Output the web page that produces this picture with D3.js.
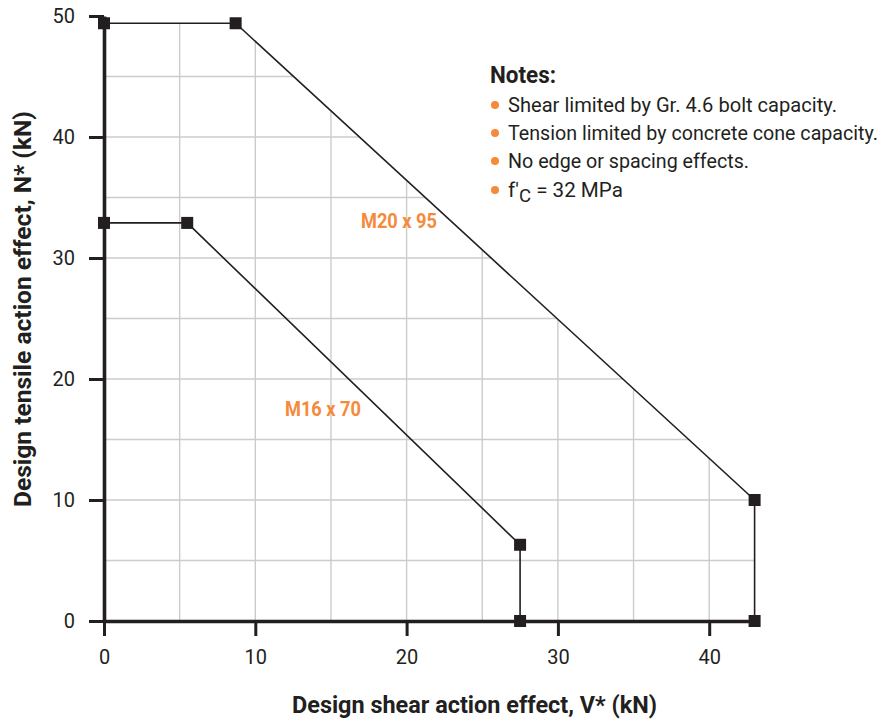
<!DOCTYPE html>
<html>
<head>
<meta charset="utf-8">
<script src="https://cdn.jsdelivr.net/npm/d3@7"></script>
<style>
  body { margin: 0; background: #fff; }
  svg { display: block; font-family: Roboto, "Liberation Sans", sans-serif; }
</style>
</head>
<body>
<div id="chart-area"></div>
<script>
// data
var m20_shear   = [0, 8.7, 43, 43]
var m20_tension = [49.4, 49.4, 10, 0]
var m16_shear   = [0, 5.5, 27.5, 27.5]
var m16_tension = [32.9, 32.9, 6.3, 0]
var xTicks = [0, 10, 20, 30, 40]
var yTicks = [0, 10, 20, 30, 40, 50]
var gridStep = 5
var notes = ["Shear limited by Gr. 4.6 bolt capacity.",
             "Tension limited by concrete cone capacity.",
             "No edge or spacing effects."]

var ink = "#231f20"
var orange = "#f58a3a"

var svgWidth = 884, svgHeight = 725

var svg = d3.select("#chart-area").append("svg")
    .attr("width", svgWidth)
    .attr("height", svgHeight)

var xScale = d3.scaleLinear().domain([0, 43]).range([104, 754.6])
var yScale = d3.scaleLinear().domain([0, 50]).range([621, 16])

var m20 = m20_shear.map((v, i) => [v, m20_tension[i]])
var m16 = m16_shear.map((v, i) => [v, m16_tension[i]])

// grid only shows under the M20 envelope
var clipPts = [[0, 0]].concat(m20)
svg.append("clipPath").attr("id", "env")
    .append("polygon")
    .attr("points", clipPts.map(p => xScale(p[0]) + "," + yScale(p[1])).join(" "))

var grid = svg.append("g").attr("clip-path", "url(#env)")
    .attr("stroke", "#cccccc")
    .attr("stroke-width", 1.4)

grid.selectAll(".vgrid")
    .data(d3.range(gridStep, 45, gridStep))
    .enter().append("line")
        .attr("x1", d => xScale(d)).attr("x2", d => xScale(d))
        .attr("y1", yScale(0)).attr("y2", yScale(50))

grid.selectAll(".hgrid")
    .data(d3.range(gridStep, 55, gridStep))
    .enter().append("line")
        .attr("x1", xScale(0)).attr("x2", xScale(43))
        .attr("y1", d => yScale(d)).attr("y2", d => yScale(d))

// axes
var botAxis = d3.axisBottom(xScale).tickValues(xTicks).tickSizeInner(15).tickSizeOuter(0).tickPadding(14)
var leftAxis = d3.axisLeft(yScale).tickValues(yTicks).tickSizeInner(15).tickSizeOuter(0).tickPadding(14)

var xAxis = svg.append("g").attr("transform", `translate(0, ${yScale(0)})`).call(botAxis)
var yAxis = svg.append("g").attr("transform", `translate(${xScale(0)}, 0)`).call(leftAxis)

;[xAxis, yAxis].forEach(ax => {
    ax.select(".domain").attr("stroke", ink).attr("stroke-width", 3.6)
    ax.selectAll(".tick line").attr("stroke", ink).attr("stroke-width", 3)
    ax.selectAll(".tick text")
        .attr("fill", ink)
        .attr("font-size", "20px")
        .attr("font-family", "Roboto, sans-serif")
})
xAxis.selectAll(".tick text").attr("dy", "0.71em")

// series lines + markers
var line = d3.line().x(d => xScale(d[0])).y(d => yScale(d[1]))

;[m20, m16].forEach(s => {
    svg.append("path")
        .datum(s)
        .attr("d", line)
        .attr("fill", "none")
        .attr("stroke", ink)
        .attr("stroke-width", 1.6)

    svg.append("g").selectAll("rect")
        .data(s)
        .enter().append("rect")
            .attr("x", d => xScale(d[0]) - 6)
            .attr("y", d => yScale(d[1]) - 6)
            .attr("width", 12)
            .attr("height", 12)
            .attr("fill", ink)
})

// series labels
svg.append("text")
    .attr("x", 361).attr("y", 228)
    .attr("fill", orange).attr("font-weight", "bold").attr("font-size", "20px")
    .attr("textLength", 76).attr("lengthAdjust", "spacingAndGlyphs")
    .text("M20 x 95")

svg.append("text")
    .attr("x", 285).attr("y", 416)
    .attr("fill", orange).attr("font-weight", "bold").attr("font-size", "20px")
    .attr("textLength", 76).attr("lengthAdjust", "spacingAndGlyphs")
    .text("M16 x 70")

// notes
svg.append("text")
    .attr("x", 490).attr("y", 83)
    .attr("fill", ink).attr("font-weight", "bold").attr("font-size", "24px")
    .attr("textLength", 66).attr("lengthAdjust", "spacingAndGlyphs")
    .text("Notes:")

var noteWidths = [329, 370, 241]
var noteY = [112, 140, 168, 197]

notes.forEach((n, i) => {
    svg.append("text")
        .attr("x", 508).attr("y", noteY[i])
        .attr("fill", ink).attr("font-size", "20px")
        .attr("textLength", noteWidths[i]).attr("lengthAdjust", "spacingAndGlyphs")
        .text(n)
})

var fc = svg.append("text")
    .attr("x", 508).attr("y", noteY[3])
    .attr("fill", ink).attr("font-size", "20px")
    .attr("textLength", 115).attr("lengthAdjust", "spacingAndGlyphs")
fc.append("tspan").text("f'")
fc.append("tspan").attr("font-size", "18px").attr("dy", 5).text("C")
fc.append("tspan").attr("dy", -5).text(" = 32 MPa")

svg.selectAll(".bullet")
    .data(noteY)
    .enter().append("circle")
        .attr("cx", 495)
        .attr("cy", d => d - 7)
        .attr("r", 4)
        .attr("fill", orange)

// axis titles
svg.append("text")
    .attr("x", 292).attr("y", 713)
    .attr("fill", ink).attr("font-weight", "bold").attr("font-size", "24px")
    .attr("textLength", 365).attr("lengthAdjust", "spacingAndGlyphs")
    .text("Design shear action effect, V* (kN)")

svg.append("text")
    .attr("transform", "translate(31, 507) rotate(-90)")
    .attr("fill", ink).attr("font-weight", "bold").attr("font-size", "23px")
    .attr("textLength", 396).attr("lengthAdjust", "spacingAndGlyphs")
    .text("Design tensile action effect, N* (kN)")
</script>
</body>
</html>
